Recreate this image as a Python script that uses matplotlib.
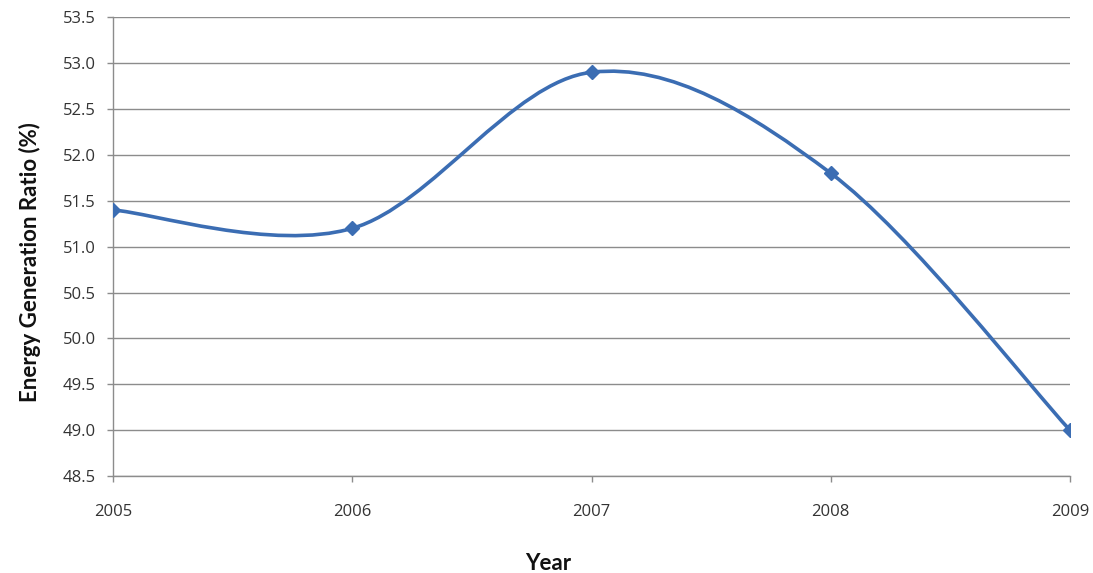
import matplotlib.pyplot as plt
import numpy as np
from matplotlib.path import Path
from matplotlib.patches import PathPatch

years = [2005, 2006, 2007, 2008, 2009]
ratio = [51.4, 51.2, 52.9, 51.8, 49.0]
y_ticks = [48.5, 49.0, 49.5, 50.0, 50.5, 51.0, 51.5, 52.0, 52.5, 53.0, 53.5]

plt.rcParams['font.family'] = ['Open Sans', 'DejaVu Sans']

line_color = '#3b6db3'
grid_color = '#8c8c8c'


# Excel-like smoothed line: Catmull-Rom segments as cubic Bezier curves
def smooth_path(x, y):
    pts = np.column_stack([x, y]).astype(float)
    n = len(pts)
    verts = [pts[0]]
    codes = [Path.MOVETO]
    for i in range(n - 1):
        p0 = pts[max(i - 1, 0)]
        p1 = pts[i]
        p2 = pts[i + 1]
        p3 = pts[min(i + 2, n - 1)]
        c1 = p1 + (p2 - p0) / 6
        c2 = p2 - (p3 - p1) / 6
        verts += [c1, c2, p2]
        codes += [Path.CURVE4] * 3
    return Path(verts, codes)


fig = plt.figure(figsize=(10.93, 5.73), dpi=100)
ax = fig.add_axes([0.1034, 0.169, 0.8756, 0.801])

ax.add_patch(PathPatch(smooth_path(years, ratio), fill=False, edgecolor=line_color,
                       lw=2.6, capstyle='round', joinstyle='round', zorder=3))
ax.plot(years, ratio, linestyle='none', marker='D', markersize=7,
        color=line_color, zorder=4)

ax.set_xlim(2005, 2009)
ax.set_ylim(48.5, 53.5)
ax.set_yticks(y_ticks)
ax.set_yticklabels([f"{v:.1f}" for v in y_ticks])
ax.set_xticks(years)
ax.set_xticklabels([str(y) for y in years])

ax.grid(axis='y', color=grid_color, lw=1.0)
ax.set_axisbelow(True)
for side in ['top', 'right']:
    ax.spines[side].set_visible(False)
for side in ['left', 'bottom']:
    ax.spines[side].set_color(grid_color)
    ax.spines[side].set_linewidth(1.0)

ax.tick_params(axis='both', colors=grid_color, length=4.3, width=1.0,
               labelcolor='#333333', labelsize=12)
ax.tick_params(axis='y', pad=8)
ax.tick_params(axis='x', pad=16)

# axis titles placed as figure text
label_font = dict(family=['Lato', 'DejaVu Sans'], size=16, weight='bold', color='#111111')
fig.text(548 / 1093, 1 - 563 / 573, 'Year', ha='center', va='center', **label_font)
fig.text(30 / 1093, 1 - 262 / 573, 'Energy Generation Ratio (%)', rotation=90,
         ha='center', va='center', **label_font)

fig.savefig('out.png', dpi=100)
